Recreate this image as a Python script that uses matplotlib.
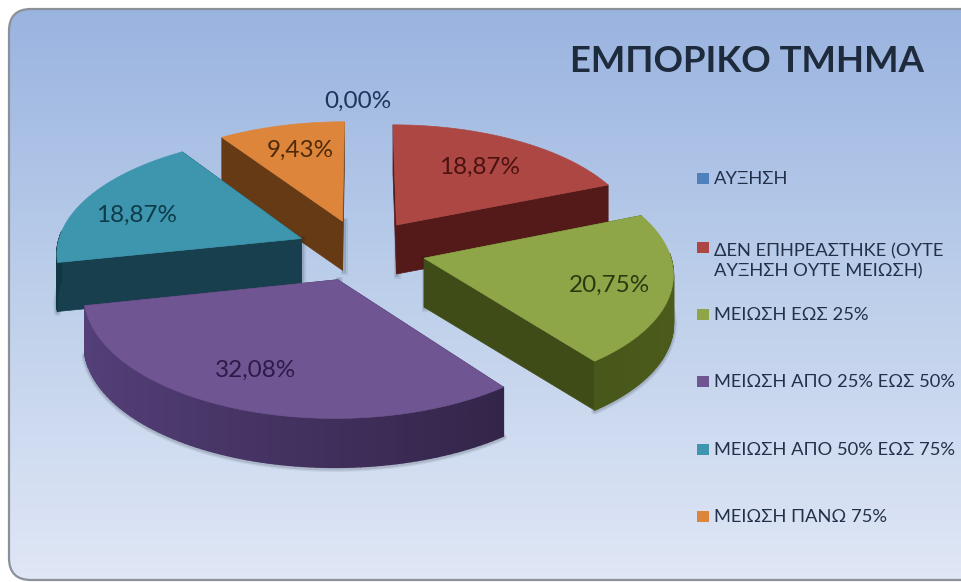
import numpy as np
import matplotlib
matplotlib.use("Agg")
import matplotlib.pyplot as plt
from matplotlib.patches import FancyBboxPatch, Polygon, Rectangle
from matplotlib.collections import PolyCollection

title = "ΕΜΠΟΡΙΚΟ ΤΜΗΜΑ"
categories = ["ΑΥΞΗΣΗ", "ΔΕΝ ΕΠΗΡΕΑΣΤΗΚΕ (ΟΥΤΕ\nΑΥΞΗΣΗ ΟΥΤΕ ΜΕΙΩΣΗ)", "ΜΕΙΩΣΗ ΕΩΣ 25%",
              "ΜΕΙΩΣΗ ΑΠΟ 25% ΕΩΣ 50%", "ΜΕΙΩΣΗ ΑΠΟ 50% ΕΩΣ 75%", "ΜΕΙΩΣΗ ΠΑΝΩ 75%"]
values = [0.00, 18.87, 20.75, 32.08, 18.87, 9.43]
top_colors = ["#4f81bd", "#ad4744", "#8ea648", "#6f5592", "#3d96ae", "#dd853b"]
wall_colors = ["#24405f", "#541a19", "#3f4c18", "#3d2a55", "#173f4e", "#653a14"]
arc_light = ["#3d6390", "#64211f", "#4c5c1c", "#55407a", "#1c4c5c", "#74431a"]
arc_dark = ["#24405f", "#4a1615", "#35420f", "#2b1e3d", "#123744", "#522e10"]
label_colors = ["#1f3557", "#4a1210", "#2a3a10", "#2c1a48", "#0f3a4a", "#4e2a0a"]
label_x = [358, 480, 610, 256, 137, 300]
label_y = [101, 167, 285, 370, 215, 150]
legend_y = [179, 261, 315, 382, 450, 517]
marker_y = [178, 247, 314, 381, 449, 516]

cx, cy = 361, 250
radius = 245
tilt = 0.475
persp = 0.11
explode = 0.265
depth = 49


def project(x, y, down=0):
    s = 1 / (1 + persp * y)
    return cx + radius * x * s, cy - radius * tilt * y * s + down


def wedge_points(th, mid):
    ox, oy = explode * np.sin(mid), explode * np.cos(mid)
    return ox, oy, ox + np.sin(th), oy + np.cos(th)


fig = plt.figure(figsize=(9.62, 5.82), dpi=100)
ax = fig.add_axes([0, 0, 1, 1])
ax.set_xlim(0, 962)
ax.set_ylim(582, 0)
ax.axis("off")

# background panel
panel = FancyBboxPatch((22, 22), 960, 545, boxstyle="round,pad=13,rounding_size=22",
                       fc="none", ec="#8b9099", lw=1.6, zorder=3)
ax.add_patch(panel)
grad = np.linspace(0, 1, 256).reshape(-1, 1)
bg = matplotlib.colors.LinearSegmentedColormap.from_list("bg", ["#99b3e0", "#bdcfea", "#e0e7f6"])
im = ax.imshow(grad, cmap=bg, extent=[0, 962, 582, 0], aspect="auto", zorder=1)
im.set_clip_path(panel)
ax.set_xlim(0, 962)
ax.set_ylim(582, 0)

fracs = np.array(values) / sum(values) * 2 * np.pi
starts = np.concatenate([[0], np.cumsum(fracs)[:-1]])
mids = starts + fracs / 2

# back slices first, front ones last
order = sorted(range(len(values)), key=lambda i: np.cos(mids[i]), reverse=True)
z = 5
for i in order:
    if values[i] == 0:
        continue
    th = np.linspace(starts[i], starts[i] + fracs[i], 80)
    ox, oy, ex, ey = wedge_points(th, mids[i])
    tx, ty = project(ex, ey)
    bx, by = project(ex, ey, depth)
    ax0, ay0 = project(ox, oy)
    ax1, ay1 = project(ox, oy, depth)

    # soft shadow under the slice
    front = np.cos(th) < 0.05
    for lw, alpha in ((5, 0.08), (3, 0.12)):
        ax.plot(bx[front], by[front] + 1, color="#10151f", lw=lw, alpha=alpha, zorder=z, solid_capstyle="round")
        ax.plot([ax0 + 1, ax1 + 1], [ay0, ay1 + 1], color="#10151f", lw=lw, alpha=alpha, zorder=z)
    z += 1

    # radial walls
    for k in (0, -1):
        wall = [(ax0, ay0), (tx[k], ty[k]), (bx[k], by[k]), (ax1, ay1)]
        ax.add_patch(Polygon(wall, fc=wall_colors[i], ec=wall_colors[i], lw=0.5, zorder=z))
    z += 1

    # outer wall, only the part facing the viewer, shaded along the arc
    c0 = np.array(matplotlib.colors.to_rgb(arc_light[i]))
    c1 = np.array(matplotlib.colors.to_rgb(arc_dark[i]))
    quads = []
    shade = []
    for j in range(len(tx) - 1):
        if np.cos(th[j]) > 0.05:
            continue
        quads.append([(tx[j], ty[j]), (tx[j + 1], ty[j + 1]), (bx[j + 1], by[j + 1]), (bx[j], by[j])])
        t = (np.sin(th[j]) + 1) / 2
        shade.append(c0 * t + c1 * (1 - t) if i != 3 else c1 * t + c0 * (1 - t))
    if quads:
        ax.add_collection(PolyCollection(quads, facecolors=shade, edgecolors=shade, linewidths=1, zorder=z))
    z += 1

    # top face
    top = [(ax0, ay0)] + list(zip(tx, ty))
    ax.add_patch(Polygon(top, fc=top_colors[i], ec=top_colors[i], lw=0.5, zorder=z))
    z += 1

for i, v in enumerate(values):
    ax.text(label_x[i], label_y[i], f"{v:.2f}%".replace(".", ","), color=label_colors[i],
            fontsize=17.5, family=["Lato", "Open Sans"], ha="center", va="center", zorder=60)

ax.text(747, 62, title, fontsize=26.3, family=["Lato", "Open Sans"], weight="bold", color="#1d2b3c",
        ha="center", va="center", zorder=60)

for i, name in enumerate(categories):
    ax.add_patch(Rectangle((697, marker_y[i] - 5.5), 12, 11, fc=top_colors[i], ec="none", zorder=60))
    ax.text(714, legend_y[i], name, fontsize=13.2, family=["Lato", "Open Sans"], color="#22304a",
            ha="left", va="center", linespacing=1.3, zorder=60)

fig.savefig("out.png", dpi=100)
